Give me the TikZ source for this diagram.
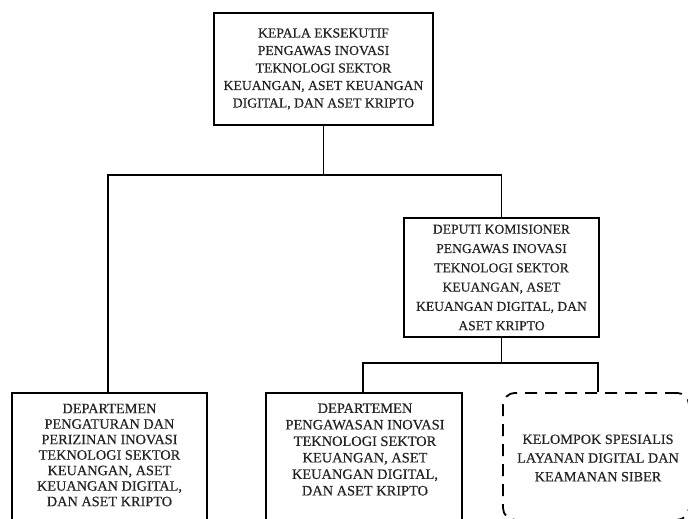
\documentclass[tikz,border=0pt]{standalone}
\usepackage{fontspec}
\setmainfont{Liberation Serif}[FakeBold=0.45]
\definecolor{txtc}{RGB}{35,35,35}
\begin{document}
\begin{tikzpicture}[x=1pt,y=-1pt,
  box/.style={draw=black, line width=1.8pt, rectangle, inner sep=0pt, text=txtc, align=center},
  dashbox/.style={draw=black, line width=1.8pt, rectangle, rounded corners=12pt, dash pattern=on 12pt off 8pt, inner sep=0pt},
  txt/.style={text=txtc, align=center, inner sep=0pt},
  conn/.style={draw=black, line width=1.5pt}
]
\useasboundingbox (0,0) rectangle (688,519);
\clip (0,0) rectangle (688,519);

\node[box, minimum width=219pt, minimum height=112pt, font={\fontsize{13.7}{17.5}\selectfont}] (top) at (323.5,69)
  {KEPALA EKSEKUTIF\\PENGAWAS INOVASI\\TEKNOLOGI SEKTOR\\KEUANGAN, ASET KEUANGAN\\DIGITAL, DAN ASET KRIPTO};

\node[box, minimum width=195pt, minimum height=119pt, font={\fontsize{13.6}{19.3}\selectfont}] (deputy) at (501.5,277.5)
  {DEPUTI KOMISIONER\\PENGAWAS INOVASI\\TEKNOLOGI SEKTOR\\KEUANGAN, ASET\\KEUANGAN DIGITAL, DAN\\ASET KRIPTO};

\node[box, minimum width=195pt, minimum height=160pt, anchor=north] (left) at (109.5,392) {};
\node[txt, font={\fontsize{14.3}{15.5}\selectfont}] (leftT) at (109.5,455)
  {DEPARTEMEN\\PENGATURAN DAN\\PERIZINAN INOVASI\\TEKNOLOGI SEKTOR\\KEUANGAN, ASET\\KEUANGAN DIGITAL,\\DAN ASET KRIPTO};

\node[box, minimum width=196pt, minimum height=160pt, anchor=north] (mid) at (364,392) {};
\node[txt, font={\fontsize{14.4}{16.5}\selectfont}] (midT) at (365,449.5)
  {DEPARTEMEN\\PENGAWASAN INOVASI\\TEKNOLOGI SEKTOR\\KEUANGAN, ASET\\KEUANGAN DIGITAL,\\DAN ASET KRIPTO};

\node[dashbox, minimum width=186pt, minimum height=127pt, anchor=north] (grp) at (596,392) {};
\node[txt, font={\fontsize{14.2}{18.7}\selectfont}] (grpT) at (598,458)
  {KELOMPOK SPESIALIS\\LAYANAN DIGITAL DAN\\KEAMANAN SIBER};

\coordinate (j1) at (323.5,175);
\coordinate (j2) at (501.5,363);
\draw[conn] (top.south) -- (j1);
\draw[conn] ([xshift=-1.5pt]left.north) |- (j1) -| (deputy.north);
\draw[conn] (deputy.south) -- (j2);
\draw[conn] ([xshift=-1pt]mid.north) |- (j2) -| ([xshift=2pt]grp.north);
\end{tikzpicture}
\end{document}
